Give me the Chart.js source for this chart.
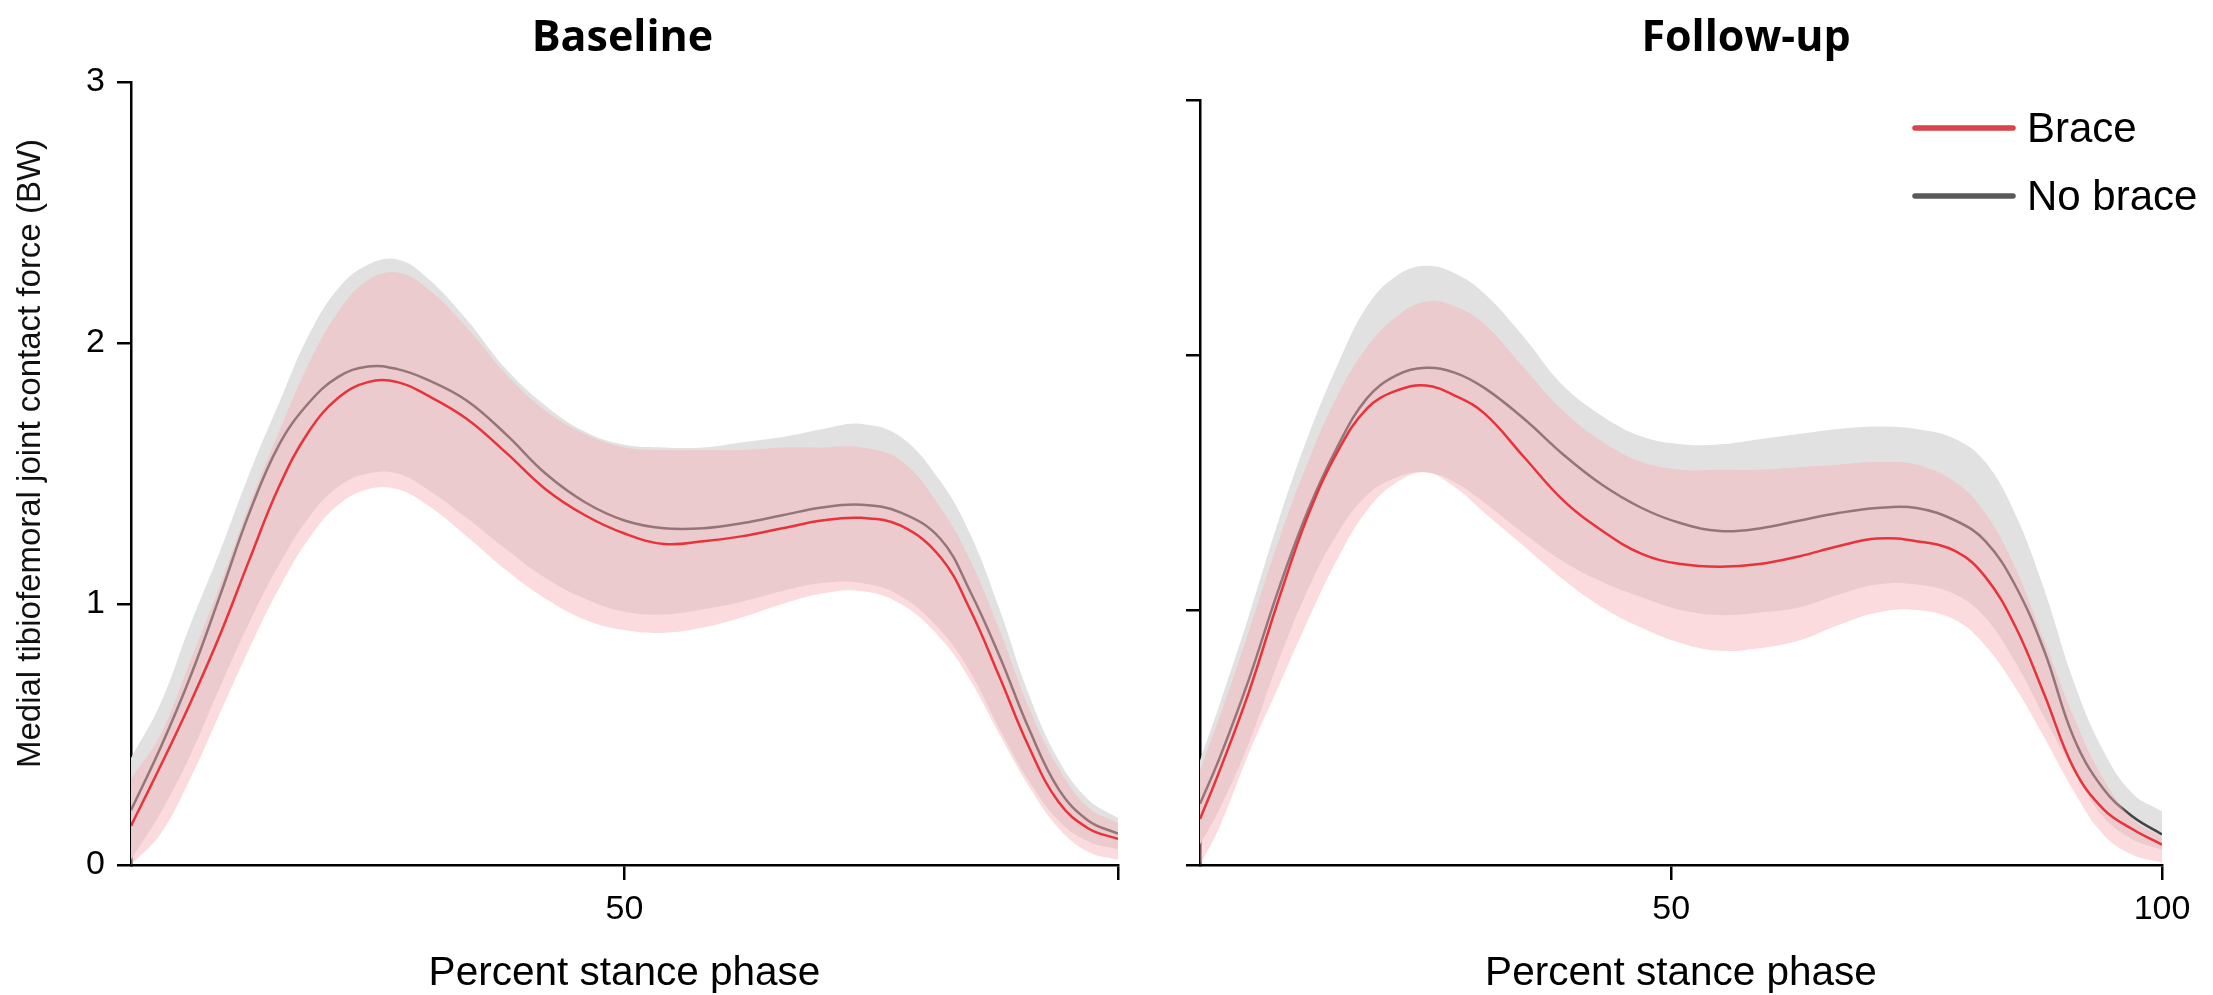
<!DOCTYPE html>
<html>
<head>
<meta charset="utf-8">
<script src="https://cdn.jsdelivr.net/npm/chart.js@4/dist/chart.umd.min.js"></script>
<style>
  html, body { margin: 0; padding: 0; background: #fff; }
  body { width: 2213px; height: 995px; position: relative; overflow: hidden; }
  .wrap { position: absolute; top: 0; }
</style>
</head>
<body>
<div class="wrap" style="left:0;width:1160px;height:995px"><canvas id="c1" width="1160" height="995"></canvas></div>
<div class="wrap" style="left:1160px;width:1053px;height:995px"><canvas id="c2" width="1053" height="995"></canvas></div>
<script>
// ---- data ----
const X_BASE = [0,3,6,9,12,15,18,21,24,27,30,34,38,42,46,50,54,58,62,66,70,74,78,82,85,88,91,94,97,100];
const BASE_BRACE_MEAN   = [.15,.38,.62,.88,1.17,1.45,1.66,1.79,1.85,1.85,1.80,1.71,1.58,1.44,1.34,1.27,1.23,1.24,1.26,1.29,1.32,1.33,1.30,1.18,.98,.72,.45,.24,.14,.10];
const BASE_BRACE_UPPER  = [.33,.50,.78,1.07,1.38,1.66,1.92,2.12,2.24,2.27,2.21,2.06,1.88,1.74,1.65,1.60,1.59,1.59,1.59,1.60,1.60,1.60,1.55,1.37,1.17,.90,.60,.37,.22,.16];
const BASE_BRACE_LOWER  = [0,.12,.33,.58,.83,1.06,1.25,1.38,1.44,1.44,1.38,1.26,1.13,1.02,.94,.90,.89,.91,.95,1.00,1.04,1.05,1.00,.87,.71,.50,.30,.14,.05,.02];
const BASE_NOBRACE_MEAN = [.21,.45,.72,1.03,1.35,1.61,1.77,1.87,1.91,1.90,1.86,1.78,1.65,1.50,1.39,1.32,1.29,1.29,1.31,1.34,1.37,1.38,1.35,1.25,1.05,.80,.52,.29,.17,.12];
const BASE_NOBRACE_UPPER= [.41,.62,.92,1.20,1.50,1.77,2.03,2.21,2.30,2.32,2.25,2.09,1.90,1.76,1.66,1.61,1.60,1.60,1.62,1.64,1.67,1.69,1.64,1.47,1.27,.98,.65,.40,.25,.18];
const BASE_NOBRACE_LOWER= [.02,.20,.42,.68,.93,1.15,1.33,1.45,1.50,1.50,1.44,1.33,1.21,1.10,1.02,.97,.96,.98,1.01,1.05,1.08,1.08,1.03,.90,.74,.52,.32,.17,.09,.06];

const X_FU = [2,4,7,10,13,16,19,22,25,28,31,35,39,43,47,51,55,59,63,67,71,75,79,82,85,88,91,94,97,100];
const FU_BRACE_MEAN   = [.18,.37,.68,1.04,1.37,1.62,1.79,1.86,1.88,1.84,1.77,1.60,1.43,1.31,1.22,1.18,1.17,1.18,1.21,1.25,1.28,1.27,1.23,1.13,.94,.67,.38,.22,.14,.08];
const FU_BRACE_UPPER  = [.37,.58,.92,1.27,1.58,1.84,2.03,2.15,2.21,2.19,2.12,1.95,1.78,1.66,1.58,1.55,1.55,1.55,1.56,1.57,1.58,1.57,1.50,1.38,1.17,.88,.58,.34,.18,.11];
const FU_BRACE_LOWER  = [0,.15,.44,.70,.96,1.20,1.39,1.50,1.54,1.48,1.38,1.25,1.12,1.01,.93,.87,.84,.85,.88,.94,.99,1.00,.96,.86,.70,.50,.29,.12,.04,.01];
const FU_NOBRACE_MEAN = [.24,.42,.73,1.08,1.39,1.64,1.83,1.92,1.95,1.93,1.87,1.75,1.61,1.49,1.40,1.34,1.31,1.32,1.35,1.38,1.40,1.40,1.35,1.27,1.10,.84,.50,.30,.19,.12];
const FU_NOBRACE_UPPER= [.41,.63,.98,1.35,1.68,1.96,2.19,2.31,2.35,2.32,2.24,2.07,1.88,1.76,1.68,1.65,1.65,1.67,1.69,1.71,1.72,1.71,1.67,1.58,1.38,1.08,.72,.45,.28,.21];
const FU_NOBRACE_LOWER= [.08,.22,.48,.80,1.08,1.30,1.45,1.52,1.54,1.50,1.42,1.30,1.19,1.11,1.05,1.00,.98,.99,1.01,1.06,1.10,1.10,1.06,.97,.80,.58,.37,.19,.10,.06];

const Y_TICKS = [0, 1, 2, 3];
const X_TICKS_BASE = [50, 100];
const X_TICK_LABELS_BASE = ['50', ''];
const X_TICKS_FU = [50, 100];
const X_TICK_LABELS_FU = ['50', '100'];
const SERIES_NAMES = ['Brace', 'No brace'];
const PANEL_TITLES = ['Baseline', 'Follow-up'];
const X_TITLE = 'Percent stance phase';
const Y_TITLE = 'Medial tibiofemoral joint contact force (BW)';

// ---- styles ----
const RED = '#e8333a';
const PINK_BAND = 'rgba(247,176,180,0.46)';
const GREY_LINE = '#444444';
const GREY_BAND = '#e1e1e1';
const LEGEND_COLORS = ['#d9434a', '#5a5a5a'];
const SANS = '"Liberation Sans", Arial, sans-serif';

function pts(xs, ys) { return xs.map((x, i) => ({ x: x, y: ys[i] })); }

function makeDatasets(xs, bm, bu, bl, nm, nu, nl) {
  const common = { pointRadius: 0, pointHoverRadius: 0, tension: 0.4 };
  return [
    Object.assign({ label: SERIES_NAMES[0], data: pts(xs, bm), borderColor: RED, borderWidth: 2.5, fill: false }, common),
    Object.assign({ label: 'Brace upper', data: pts(xs, bu), borderWidth: 0, borderColor: 'rgba(0,0,0,0)', backgroundColor: PINK_BAND, fill: '+1' }, common),
    Object.assign({ label: 'Brace lower', data: pts(xs, bl), borderWidth: 0, borderColor: 'rgba(0,0,0,0)', fill: false }, common),
    Object.assign({ label: SERIES_NAMES[1], data: pts(xs, nm), borderColor: GREY_LINE, borderWidth: 2.5, fill: false }, common),
    Object.assign({ label: 'No brace upper', data: pts(xs, nu), borderWidth: 0, borderColor: 'rgba(0,0,0,0)', backgroundColor: GREY_BAND, fill: '+1' }, common),
    Object.assign({ label: 'No brace lower', data: pts(xs, nl), borderWidth: 0, borderColor: 'rgba(0,0,0,0)', fill: false }, common)
  ];
}

const panelTextPlugin = {
  id: 'panelText',
  afterDraw(chart, args, opts) {
    const ctx = chart.ctx, a = chart.chartArea;
    ctx.save();
    ctx.font = 'bold 43px "Open Sans", sans-serif';
    ctx.fillStyle = '#000';
    ctx.textAlign = 'center';
    ctx.textBaseline = 'alphabetic';
    ctx.fillText(opts.text, (a.left + a.right) / 2 + (opts.dx || 0), opts.baseline);
    if (opts.yTitle) {
      ctx.translate(31, (a.top + a.bottom) / 2 - 20);
      ctx.rotate(-Math.PI / 2);
      ctx.font = '33px ' + SANS;
      ctx.fillStyle = '#111';
      ctx.textBaseline = 'middle';
      ctx.fillText(opts.yTitle, 0, 0);
    }
    ctx.restore();
  }
};

const lineLegendPlugin = {
  id: 'lineLegend',
  afterDraw(chart, args, opts) {
    if (!opts.show) return;
    const ctx = chart.ctx, a = chart.chartArea;
    ctx.save();
    ctx.font = '42px ' + SANS;
    ctx.textBaseline = 'middle';
    ctx.textAlign = 'left';
    const items = [chart.data.datasets[0].label, chart.data.datasets[3].label];
    items.forEach((label, i) => {
      const y = a.top + 28 + i * 68;
      ctx.strokeStyle = LEGEND_COLORS[i];
      ctx.lineWidth = 5.5;
      ctx.lineCap = 'round';
      ctx.beginPath();
      ctx.moveTo(a.right - 247, y);
      ctx.lineTo(a.right - 149, y);
      ctx.stroke();
      ctx.fillStyle = '#000';
      ctx.fillText(label, a.right - 135, y + 2);
    });
    ctx.restore();
  }
};

function makeChart(canvasId, cfg) {
  return new Chart(document.getElementById(canvasId), {
    type: 'line',
    data: { datasets: cfg.datasets },
    plugins: [panelTextPlugin, lineLegendPlugin],
    options: {
      responsive: false,
      animation: false,
      devicePixelRatio: 1,
      layout: { padding: { top: cfg.top, right: cfg.right, left: 0, bottom: 0 } },
      plugins: {
        legend: { display: false },
        tooltip: { enabled: false },
        filler: { propagate: false },
        panelText: { text: cfg.title, dx: cfg.titleDx, baseline: 51, yTitle: cfg.yLabels ? Y_TITLE : null },
        lineLegend: { show: cfg.legend }
      },
      scales: {
        x: {
          type: 'linear',
          min: cfg.xmin, max: 100,
          afterBuildTicks: (s) => { s.ticks = cfg.xticks.map(v => ({ value: v })); },
          afterFit: (s) => { s.height = 130; },
          ticks: {
            autoSkip: false, maxRotation: 0, padding: 9,
            color: '#000', font: { family: SANS, size: 34 },
            callback: (v) => { const i = cfg.xticks.indexOf(v); return i >= 0 ? cfg.xlabels[i] : ''; }
          },
          grid: { display: true, drawOnChartArea: false, drawTicks: true, tickLength: 15, color: '#000', lineWidth: 2.5 },
          border: { display: true, color: '#000', width: 2.5 },
          title: { display: true, text: X_TITLE, color: '#000', font: { family: SANS, size: 40.5 }, padding: { top: 0, bottom: -3 } }
        },
        y: {
          min: 0, max: 3,
          afterBuildTicks: (s) => { s.ticks = Y_TICKS.map(v => ({ value: v })); },
          afterFit: (s) => { s.width = cfg.yWidth; },
          ticks: {
            padding: 12, color: '#000', font: { family: SANS, size: 34 },
            callback: (v) => cfg.yLabels ? String(v) : ''
          },
          grid: { display: true, drawOnChartArea: false, drawTicks: true, tickLength: 14, color: '#000', lineWidth: 2.5 },
          border: { display: true, color: '#000', width: 2.5 },
          title: { display: false }
        }
      }
    }
  });
}

makeChart('c1', {
  datasets: makeDatasets(X_BASE, BASE_BRACE_MEAN, BASE_BRACE_UPPER, BASE_BRACE_LOWER, BASE_NOBRACE_MEAN, BASE_NOBRACE_UPPER, BASE_NOBRACE_LOWER),
  top: 82, right: 42, yWidth: 131, xmin: 0,
  xticks: X_TICKS_BASE, xlabels: X_TICK_LABELS_BASE,
  yLabels: true, title: PANEL_TITLES[0], titleDx: -2, legend: false
});
makeChart('c2', {
  datasets: makeDatasets(X_FU, FU_BRACE_MEAN, FU_BRACE_UPPER, FU_BRACE_LOWER, FU_NOBRACE_MEAN, FU_NOBRACE_UPPER, FU_NOBRACE_LOWER),
  top: 100, right: 51, yWidth: 40, xmin: 2,
  xticks: X_TICKS_FU, xlabels: X_TICK_LABELS_FU,
  yLabels: false, title: PANEL_TITLES[1], titleDx: 65, legend: true
});
</script>
</body>
</html>
